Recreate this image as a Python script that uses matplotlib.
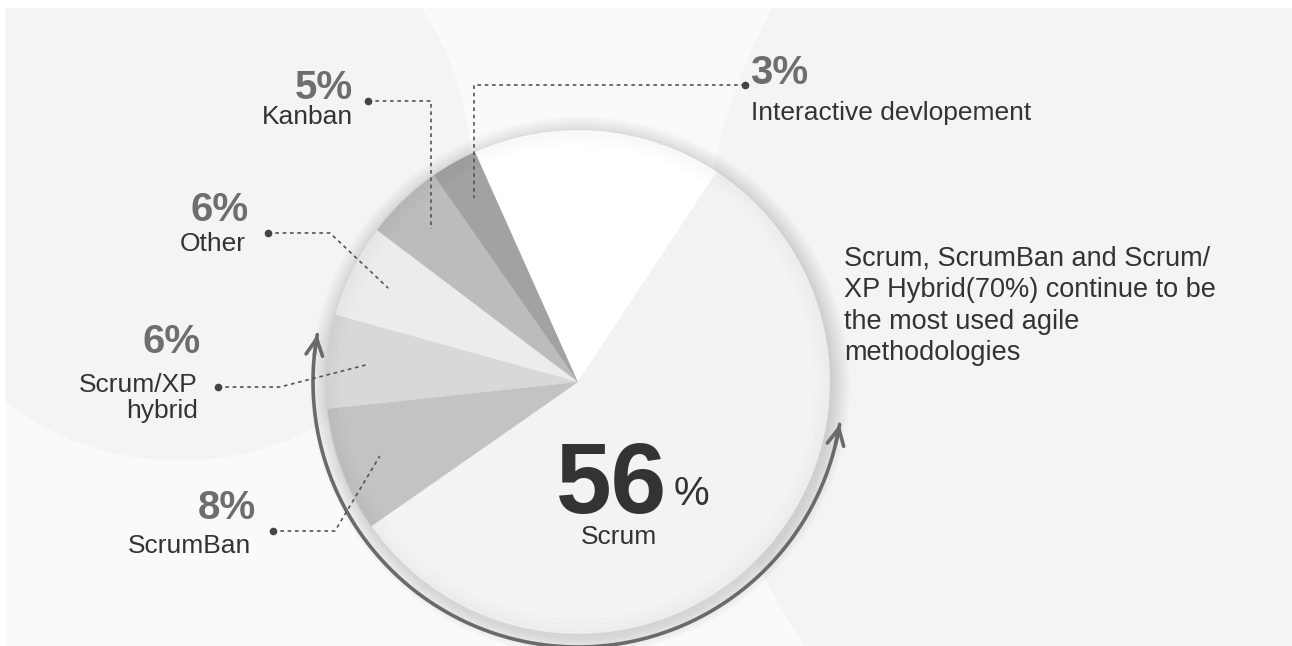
import numpy as np
import matplotlib.pyplot as plt
from matplotlib.patches import Circle, Rectangle

plt.rcParams['font.family'] = ['Liberation Sans', 'DejaVu Sans']

# survey shares, in the clockwise order the wedges are drawn
methods = ["Scrum", "ScrumBan", "Scrum/XP\nhybrid", "Other", "Kanban", "Interactive devlopement"]
shares = [56, 8, 6, 6, 5, 3]
remainder = 100 - sum(shares)          # unlabeled white wedge
slice_colors = ["#f3f3f3", "#c3c3c3", "#d8d8d8", "#ececec", "#bcbcbc", "#a2a2a2", "#ffffff"]

note = ("Scrum, ScrumBan and Scrum/\nXP Hybrid(70%) continue to be\n"
        "the most used agile\nmethodologies")

W, H = 1292, 646
CX, CY, R = 578, 382, 252

fig = plt.figure(figsize=(W / 100, H / 100), dpi=100, facecolor="white")
ax = fig.add_axes([0, 0, 1, 1])

# soft backdrop, kept inside a thin white margin
panel = Rectangle((6, 8), W, H, color="#fafafa", zorder=0)
ax.add_patch(panel)
for (bx, by), br in [((180, 170), 290), ((1320, 300), 620)]:
    blob = Circle((bx, by), br, color="#f4f4f4", zorder=0.1)
    ax.add_patch(blob)
    blob.set_clip_path(panel)

# drop shadow around the pie
for i in range(18):
    ax.add_patch(Circle((CX + 2, CY + 4), R + 18 - i, color="black", alpha=0.009, lw=0, zorder=1))

# y axis is inverted below, so counterclock in data space reads clockwise on screen
wedges, _ = ax.pie(shares + [remainder], colors=slice_colors, startangle=-56.5,
                   counterclock=True, center=(CX, CY), radius=R, frame=True,
                   wedgeprops=dict(linewidth=0))
for w in wedges:
    w.set_zorder(2)
ax.set_xlim(0, W)
ax.set_ylim(H, 0)          # pixel-style coordinates, y grows downward
ax.set_aspect("equal")
ax.axis("off")

# rim shading inside the pie, fading toward the centre
for i in range(20):
    ax.add_patch(Circle((CX, CY), R - i * 0.9, fill=False, lw=1.4, ec="black",
                        alpha=0.014 * (1 - i / 20), zorder=3))

# arc with arrowheads on both ends
arc_r = 265
theta = np.radians(np.linspace(9.2, 190.3, 200))
ax.plot(CX + arc_r * np.cos(theta), CY + arc_r * np.sin(theta), color="#6a6a6a", lw=2.6,
        solid_capstyle="round", zorder=4)
for t_end, t_prev in [(190.3, 186.0), (9.2, 13.5)]:
    te, tp = np.radians(t_end), np.radians(t_prev)
    ax.annotate("", xy=(CX + arc_r * np.cos(te), CY + arc_r * np.sin(te)),
                xytext=(CX + arc_r * np.cos(tp), CY + arc_r * np.sin(tp)),
                arrowprops=dict(arrowstyle="->", color="#6a6a6a", lw=2.6, mutation_scale=30,
                                shrinkA=0, shrinkB=0), zorder=4)


def anchor(wedge, frac=0.84):
    mid = np.radians((wedge.theta1 + wedge.theta2) / 2)
    return CX + R * frac * np.cos(mid), CY + R * frac * np.sin(mid)


# leader lines: label dot, bend point, anchor inside the wedge
dots = {1: (273, 531), 2: (218, 387), 3: (268, 233), 4: (368, 101), 5: (745, 85)}
for idx, (dx, dy) in dots.items():
    axp, ayp = anchor(wedges[idx])
    if idx >= 4:
        xs, ys = [dx, axp, axp], [dy, dy, ayp]
    else:
        xs, ys = [dx, dx + 62, axp], [dy, dy, ayp]
    ax.plot(xs, ys, color="#555555", lw=1.2, ls=(0, (2.2, 2.2)), zorder=5)
    ax.plot(dx, dy, "o", color="#444444", ms=4.5, zorder=6)

pct_kw = dict(fontsize=29, fontweight="bold", color="#6e6e6e", zorder=6)
name_kw = dict(fontsize=19, color="#333333", zorder=6)

ax.text(353, 88, f"{shares[4]}%", ha="right", va="center", **pct_kw)
ax.text(353, 117, methods[4], ha="right", va="center", **name_kw)
ax.text(249, 210, f"{shares[3]}%", ha="right", va="center", **pct_kw)
ax.text(246, 244, methods[3], ha="right", va="center", **name_kw)
ax.text(201, 342, f"{shares[2]}%", ha="right", va="center", **pct_kw)
ax.text(198, 398, methods[2], ha="right", va="center", linespacing=1.15, **name_kw)
ax.text(256, 508, f"{shares[1]}%", ha="right", va="center", **pct_kw)
ax.text(251, 546, methods[1], ha="right", va="center", **name_kw)
ax.text(750, 73, f"{shares[5]}%", ha="left", va="center", **pct_kw)
ax.text(751, 113, methods[5], ha="left", va="center", **name_kw)

ax.text(844, 306, note, ha="left", va="center", fontsize=19.5, color="#333333",
        linespacing=1.27, zorder=6)

# headline value for the largest wedge
ax.text(667, 513, f"{shares[0]}", ha="right", va="baseline", fontsize=72,
        fontweight="bold", color="#333333", zorder=6)
ax.text(674, 505, "%", ha="left", va="baseline", fontsize=29, color="#333333", zorder=6)
ax.text(619, 537, methods[0], ha="center", va="center", fontsize=19, color="#333333", zorder=6)

fig.savefig("out.png", dpi=100, facecolor="white")
